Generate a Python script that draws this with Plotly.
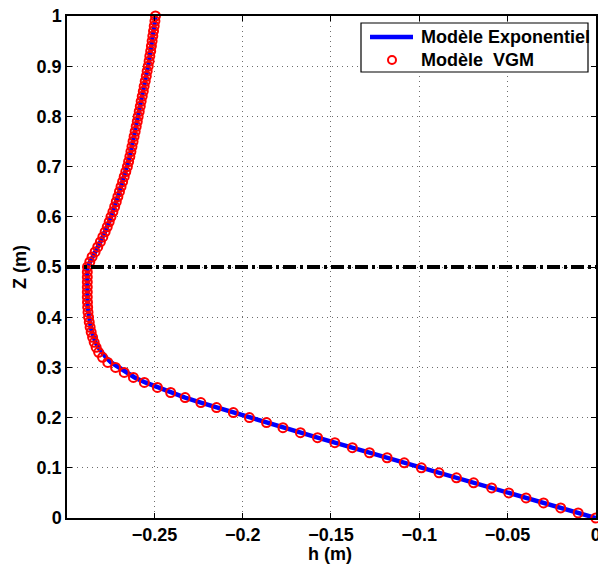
import plotly.graph_objects as go

# ---------------- data ----------------
z_vgm = [round(i * 0.01, 2) for i in range(101)]
h_vgm = [
    0.0, -0.0100, -0.0199, -0.0296, -0.0395, -0.0493, -0.0590, -0.0692, -0.0789, -0.0888,
    -0.0988, -0.1085, -0.1182, -0.1282, -0.1379, -0.1478, -0.1576, -0.1673, -0.1772, -0.1865,
    -0.1962, -0.2053, -0.2148, -0.2237, -0.2326, -0.2408, -0.2483, -0.2557, -0.2619, -0.2671,
    -0.2720, -0.2764, -0.2794, -0.2816, -0.2830, -0.2841, -0.2850, -0.2858, -0.2864, -0.2869,
    -0.2873, -0.2876, -0.2878, -0.2879, -0.2880, -0.2880, -0.2880, -0.2880, -0.2880, -0.2880,
    -0.2879, -0.2866, -0.2853, -0.2836, -0.2821, -0.2806, -0.2792, -0.2779, -0.2767, -0.2756,
    -0.2746, -0.2735, -0.2725, -0.2716, -0.2707, -0.2698, -0.2689, -0.2680, -0.2671, -0.2662,
    -0.2653, -0.2646, -0.2639, -0.2633, -0.2627, -0.2621, -0.2615, -0.2609, -0.2603, -0.2597,
    -0.2592, -0.2586, -0.2580, -0.2575, -0.2569, -0.2563, -0.2558, -0.2552, -0.2546, -0.2541,
    -0.2535, -0.2530, -0.2526, -0.2521, -0.2517, -0.2513, -0.2509, -0.2505, -0.2501, -0.2497,
    -0.2494,
]

z_exp = [round(i * 0.01, 2) for i in range(101)]
h_exp = [
    0.0, -0.0100, -0.0199, -0.0296, -0.0395, -0.0493, -0.0590, -0.0692, -0.0789, -0.0888,
    -0.0988, -0.1085, -0.1182, -0.1282, -0.1379, -0.1478, -0.1576, -0.1673, -0.1772, -0.1865,
    -0.1962, -0.2053, -0.2148, -0.2237, -0.2326, -0.2406, -0.2480, -0.2552, -0.2612, -0.2660,
    -0.2705, -0.2745, -0.2775, -0.2800, -0.2818, -0.2833, -0.2845, -0.2853, -0.2860, -0.2866,
    -0.2871, -0.2875, -0.2878, -0.2879, -0.2880, -0.2880, -0.2880, -0.2880, -0.2880, -0.2880,
    -0.2879, -0.2866, -0.2853, -0.2836, -0.2821, -0.2806, -0.2792, -0.2779, -0.2767, -0.2756,
    -0.2746, -0.2735, -0.2725, -0.2716, -0.2707, -0.2698, -0.2689, -0.2680, -0.2671, -0.2662,
    -0.2653, -0.2646, -0.2639, -0.2633, -0.2627, -0.2621, -0.2615, -0.2609, -0.2603, -0.2597,
    -0.2592, -0.2586, -0.2580, -0.2575, -0.2569, -0.2563, -0.2558, -0.2552, -0.2546, -0.2541,
    -0.2535, -0.2530, -0.2526, -0.2521, -0.2517, -0.2513, -0.2509, -0.2505, -0.2501, -0.2497,
    -0.2494,
]

interface_z = 0.5

x_ticks = [-0.25, -0.2, -0.15, -0.1, -0.05, 0]
x_tick_labels = ["\u22120.25", "\u22120.2", "\u22120.15", "\u22120.1", "\u22120.05", "0"]
y_ticks = [0, 0.1, 0.2, 0.3, 0.4, 0.5, 0.6, 0.7, 0.8, 0.9, 1]
y_tick_labels = ["0", "0.1", "0.2", "0.3", "0.4", "0.5", "0.6", "0.7", "0.8", "0.9", "1"]

name_exp = "Modèle Exponentiel"
name_vgm = "Modèle\u00a0\u00a0VGM"
x_title = "h (m)"
y_title = "Z (m)"

# ---------------- style ----------------
FONT = "Liberation Sans"
FS = 18
BLUE = "#0000ff"
RED = "#ff0000"

W, H = 598, 566
ML, MR, MT, MB = 67, 2, 16, 48
PW = W - ML - MR
PH = H - MT - MB


def px_x(X):  # page pixel -> paper x
    return (X - ML) / PW


def px_y(Y):  # page pixel -> paper y
    return (H - MB - Y) / PH


fig = go.Figure()

fig.add_trace(go.Scatter(
    x=h_exp, y=z_exp, mode="lines", name=name_exp, showlegend=False,
    line=dict(color=BLUE, width=4.5), cliponaxis=False,
))
fig.add_trace(go.Scatter(
    x=h_vgm, y=z_vgm, mode="markers", name=name_vgm, showlegend=False,
    marker=dict(symbol="circle-open", size=9, color=RED,
                line=dict(color=RED, width=2)),
    cliponaxis=False,
))

fig.add_hline(y=interface_z, line=dict(color="black", width=4, dash="13px,4px,3px,4px"))

axis_common = dict(
    showline=True, linecolor="black", linewidth=1.5, mirror="ticks",
    ticks="inside", ticklen=5, tickwidth=1, tickcolor="black",
    showgrid=True, gridcolor="#6e6e6e", gridwidth=1, griddash="1px,4px",
    zeroline=False, automargin=False, ticklabeloverflow="allow",
    tickfont=dict(family=FONT, size=FS, color="black", weight="bold"),
)

fig.update_xaxes(range=[-0.2995, 0.0001], tickvals=x_ticks, ticktext=x_tick_labels, **axis_common)
fig.update_yaxes(
    range=[0, 1], tickvals=y_ticks, ticktext=y_tick_labels,
    title=dict(text=y_title, font=dict(family=FONT, size=FS, color="black", weight="bold"),
               standoff=5),
    **axis_common,
)

# x-axis title
fig.add_annotation(
    x=px_x(330), y=px_y(554), xref="paper", yref="paper", text=x_title, showarrow=False,
    xanchor="center", yanchor="middle",
    font=dict(family=FONT, size=FS, color="black", weight="bold"),
)

# ---------------- legend (drawn box) ----------------
fig.add_shape(type="rect", xref="paper", yref="paper",
              x0=px_x(361), x1=px_x(588), y0=px_y(72), y1=px_y(23),
              line=dict(color="black", width=1.2), fillcolor="white", layer="above")
fig.add_shape(type="line", xref="paper", yref="paper",
              x0=px_x(370), x1=px_x(413), y0=px_y(37), y1=px_y(37),
              line=dict(color=BLUE, width=4.5), layer="above")
fig.add_shape(type="circle", xref="paper", yref="paper",
              xsizemode="pixel", ysizemode="pixel",
              xanchor=px_x(392), yanchor=px_y(60), x0=-4, x1=4, y0=-4, y1=4,
              line=dict(color=RED, width=2), layer="above")
for txt, Y in [(name_exp, 37), (name_vgm, 60)]:
    fig.add_annotation(
        x=px_x(419), y=px_y(Y), xref="paper", yref="paper", text=txt, showarrow=False,
        xanchor="left", yanchor="middle",
        font=dict(family=FONT, size=FS, color="black", weight="bold"),
    )

fig.update_layout(
    width=W, height=H,
    margin=dict(l=ML, r=MR, t=MT, b=MB),
    paper_bgcolor="white", plot_bgcolor="white",
    showlegend=False,
)

fig.write_html(
    "out.html",
    config={"displayModeBar": False},
    post_script="document.body.style.margin='0';document.body.style.overflow='hidden';"
                "document.documentElement.style.overflow='hidden';",
)
